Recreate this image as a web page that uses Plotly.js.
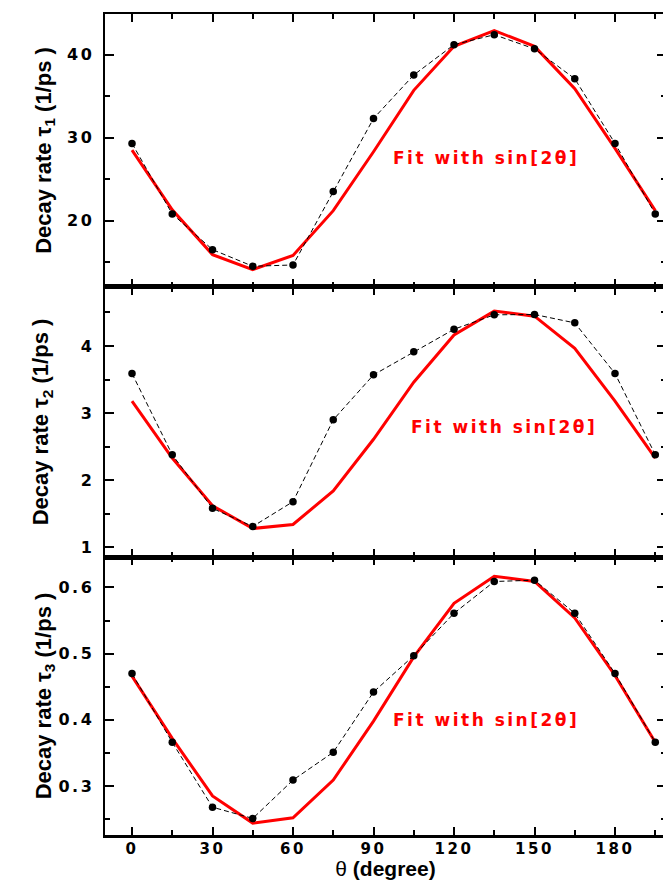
<!DOCTYPE html>
<html>
<head>
<meta charset="utf-8">
<script src="https://cdn.plot.ly/plotly-3.0.1.min.js"></script>
<style>
html, body { margin: 0; padding: 0; overflow: hidden; background: #fff; }
#chart { width: 668px; height: 881px; }
g[class$="tick"] > text { letter-spacing: 2.5px; }
text.annotation-text { letter-spacing: 2.5px; }
</style>
</head>
<body>
<div id="chart"></div>
<script>
// ---- data ----
const theta = [0, 15, 30, 45, 60, 75, 90, 105, 120, 135, 150, 165, 180, 195];

const tau1 = [29.3, 20.8, 16.5, 14.5, 14.65, 23.5, 32.3, 37.55, 41.2, 42.4, 40.7, 37.1, 29.3, 20.8];
const fit1 = [28.5, 21.3, 15.9, 14.1, 15.8, 21.2, 28.3, 35.7, 41.0, 42.9, 41.0, 35.9, 28.7, 21.2];

const tau2 = [3.59, 2.38, 1.58, 1.31, 1.68, 2.90, 3.57, 3.915, 4.25, 4.465, 4.47, 4.345, 3.59, 2.38];
const fit2 = [3.18, 2.33, 1.62, 1.28, 1.34, 1.84, 2.61, 3.46, 4.165, 4.52, 4.445, 3.965, 3.18, 2.33];

const tau3 = [0.470, 0.366, 0.268, 0.251, 0.309, 0.351, 0.442, 0.497, 0.561, 0.609, 0.611, 0.561, 0.470, 0.366];
const fit3 = [0.466, 0.372, 0.285, 0.244, 0.252, 0.309, 0.398, 0.495, 0.576, 0.617, 0.609, 0.554, 0.467, 0.366];

const yTitles = [
  'Decay rate τ<sub>1</sub> (1/ps )',
  'Decay rate τ<sub>2</sub> (1/ps )',
  'Decay rate τ<sub>3</sub> (1/ps )'
];
const xTitle = '<span style="font-weight:normal">θ</span> (degree)';
const fitLabel = 'Fit with sin[2θ]';

// ---- styling ----
const tickFont = { family: 'DejaVu Sans, Verdana, sans-serif', size: 16, color: '#000', weight: 'bold' };
const xTickFont = { family: 'DejaVu Sans, Verdana, sans-serif', size: 15, color: '#000', weight: 'bold' };
const titleFont = { family: 'Liberation Sans, Arial, sans-serif', size: 22, color: '#000', weight: 'bold' };
const xTitleFont = { family: 'Liberation Sans, Arial, sans-serif', size: 21, color: '#000', weight: 'bold' };

function dataTrace(y, xa, ya) {
  return {
    x: theta, y: y, xaxis: xa, yaxis: ya, type: 'scatter', mode: 'lines+markers',
    line: { color: '#000', width: 1, dash: '5px,3px' },
    marker: { color: '#000', size: 7.5 },
    showlegend: false, hoverinfo: 'skip'
  };
}
function fitTrace(y, xa, ya) {
  return {
    x: theta, y: y, xaxis: xa, yaxis: ya, type: 'scatter', mode: 'lines',
    line: { color: '#ff0000', width: 3 },
    showlegend: false, hoverinfo: 'skip'
  };
}

const traces = [
  fitTrace(fit1, 'x', 'y'), dataTrace(tau1, 'x', 'y'),
  fitTrace(fit2, 'x2', 'y2'), dataTrace(tau2, 'x2', 'y2'),
  fitTrace(fit3, 'x3', 'y3'), dataTrace(tau3, 'x3', 'y3')
];

function xAxis(anchor, labels) {
  return {
    anchor: anchor, domain: [0, 1], range: [-10.06, 199.0],
    tick0: 0, dtick: 30, ticks: 'inside', ticklen: 8, tickwidth: 2, tickcolor: '#000',
    minor: { dtick: 15, tick0: 0, ticks: 'inside', ticklen: 5, tickwidth: 2, tickcolor: '#000', showgrid: false },
    showline: true, linewidth: 2.5, linecolor: '#000', mirror: 'ticks',
    showgrid: false, zeroline: false, showticklabels: labels,
    tickfont: xTickFont, ticklabelstandoff: -2
  };
}
function yAxis(anchor, domain, range, dtick, minor, title, standoff, fmt) {
  return {
    anchor: anchor, domain: domain, range: range,
    dtick: dtick, ticks: 'inside', ticklen: 9, tickwidth: 2, tickcolor: '#000',
    minor: { dtick: minor, ticks: 'inside', ticklen: 5, tickwidth: 2, tickcolor: '#000', showgrid: false },
    showline: true, linewidth: 2.5, linecolor: '#000', mirror: 'ticks',
    showgrid: false, zeroline: false, tickformat: fmt,
    tickfont: tickFont, ticklabelstandoff: 5,
    title: { text: title, font: titleFont, standoff: standoff }
  };
}

const layout = {
  width: 668, height: 881,
  margin: { l: 105, r: 2, t: 14, b: 46 },
  paper_bgcolor: '#fff', plot_bgcolor: '#fff',
  xaxis: xAxis('y', false),
  xaxis2: xAxis('y2', false),
  xaxis3: Object.assign(xAxis('y3', true), {
    title: { text: xTitle, font: xTitleFont, standoff: 3 }
  }),
  yaxis: yAxis('x', [0.6675, 1], [12, 44.9], 10, 5, yTitles[0], 10, 'd'),
  yaxis2: yAxis('x2', [0.3386, 0.6675], [0.855, 4.88], 1, 0.5, yTitles[1], 26, 'd'),
  yaxis3: yAxis('x3', [0, 0.3386], [0.226, 0.646], 0.1, 0.05, yTitles[2], 0, '.1f'),
  annotations: [
    { xref: 'x', yref: 'y', x: 131.9, y: 27.6, text: fitLabel },
    { xref: 'x2', yref: 'y2', x: 138.8, y: 2.79, text: fitLabel },
    { xref: 'x3', yref: 'y3', x: 131.9, y: 0.40, text: fitLabel }
  ].map(a => Object.assign(a, {
    showarrow: false, xanchor: 'center', yanchor: 'middle',
    font: { family: 'DejaVu Sans, Verdana, sans-serif', size: 17, color: '#ff0000', weight: 'bold' }
  }))
};

Plotly.newPlot('chart', traces, layout, { staticPlot: true, displayModeBar: false });
</script>
</body>
</html>
